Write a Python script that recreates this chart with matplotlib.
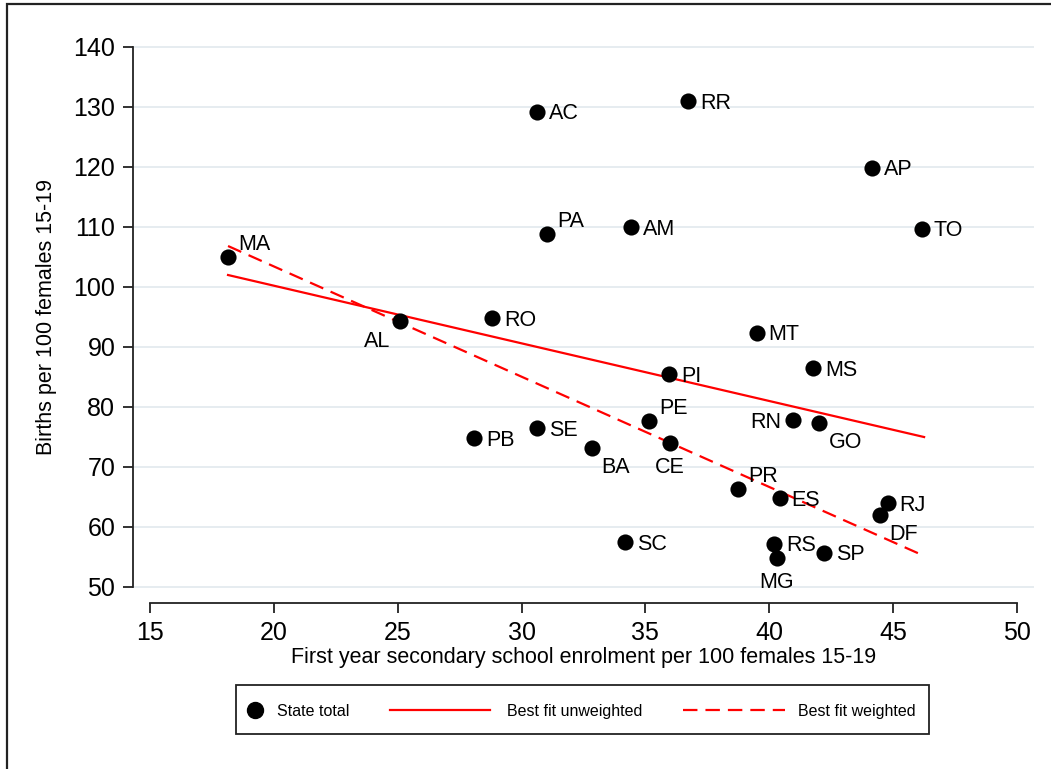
import matplotlib
matplotlib.use("Agg")
import matplotlib.pyplot as plt
from matplotlib.lines import Line2D
from matplotlib.patches import Rectangle
import numpy as np

plt.rcParams['font.family'] = ['Liberation Sans', 'DejaVu Sans']

# State totals: secondary enrolment (x) vs births (y) per 100 females 15-19
states = ["MA", "AL", "RO", "PB", "AC", "SE", "PA", "BA", "SC", "AM", "PE", "PI",
          "CE", "RR", "PR", "MT", "RS", "MG", "ES", "RN", "MS", "GO", "SP", "AP",
          "DF", "RJ", "TO"]
enrolment = [18.15, 25.09, 28.81, 28.08, 30.62, 30.62, 31.03, 32.84, 34.18, 34.42,
             35.15, 35.95, 35.99, 36.72, 38.74, 39.50, 40.19, 40.31, 40.43, 40.96,
             41.77, 42.01, 42.21, 44.15, 44.47, 44.79, 46.17]
births = [105.0, 94.3, 94.8, 74.8, 129.2, 76.5, 108.8, 73.2, 57.5, 110.0,
          77.6, 85.5, 74.0, 131.0, 66.3, 92.4, 57.2, 54.8, 64.8, 77.8,
          86.5, 77.3, 55.7, 119.9, 62.0, 64.0, 109.7]
# label placement (clock position, Stata style); default is 3 o'clock
label_pos = {"MA": 1, "AL": 7, "BA": 5, "CE": 6, "PE": 1, "PA": 1, "PR": 1,
             "DF": 5, "GO": 5, "MG": 6, "RN": 9}

# Fitted lines (intercept, slope) over the enrolment range
fit_x_range = [18.15, 46.25]
fit_unweighted = (119.44, -0.961)
fit_weighted = (140.19, -1.838)

y_ticks = [50, 60, 70, 80, 90, 100, 110, 120, 130, 140]
x_ticks = [15, 20, 25, 30, 35, 40, 45, 50]

legend_labels = ["State total", "Best fit unweighted", "Best fit weighted"]

RED = "#ff0000"
INK = "#222222"
W, H = 1051, 769
fig = plt.figure(figsize=(W / 100, H / 100), dpi=100)


def fx(px):
    return px / W


def fy(py):
    return 1 - py / H


# outer frame
fig.add_artist(Rectangle((fx(6.5), -0.1), 1.2, 1.1 - 4.5 / H, transform=fig.transFigure,
                         fill=False, edgecolor=INK, linewidth=1.6))

# plot region geometry in pixels: x 15->150, 50->1017 ; y 140->47, 50->587
px_per_x = (1017 - 150) / 35.0
y_top_px, y_bot_px = 47, 587
px_per_y = (y_bot_px - y_top_px) / 90.0
ax_left_px, ax_right_px = 133, 1034
top_px, bot_px = 30, 603
xlim = (15 - (150 - ax_left_px) / px_per_x, 50 + (ax_right_px - 1017) / px_per_x)
ylim = (50 - (bot_px - y_bot_px) / px_per_y, 140 + (y_top_px - top_px) / px_per_y)

ax = fig.add_axes([fx(ax_left_px), fy(bot_px), (ax_right_px - ax_left_px) / W,
                   (bot_px - top_px) / H])
ax.set_xlim(*xlim)
ax.set_ylim(*ylim)

for s in ["top", "right"]:
    ax.spines[s].set_visible(False)
ax.spines["left"].set_bounds(50, 140)
ax.spines["bottom"].set_bounds(15, 50)
for s in ["left", "bottom"]:
    ax.spines[s].set_linewidth(1.3)
    ax.spines[s].set_color(INK)

ax.set_yticks(y_ticks)
ax.set_xticks(x_ticks)
ax.tick_params(axis="both", labelsize=18, length=7.2, width=1.3, color=INK, pad=5.5)
for yv in y_ticks:
    ax.axhline(yv, color="#e6ecf0", linewidth=1.4, zorder=0)

# fit lines
xs = np.array(fit_x_range)
ax.plot(xs, fit_unweighted[0] + fit_unweighted[1] * xs, color=RED, lw=1.6, zorder=2)
ax.plot(xs, fit_weighted[0] + fit_weighted[1] * xs, color=RED, lw=1.6,
        dashes=(6.5, 3.6), zorder=2)

ax.scatter(enrolment, births, s=135, color="black", zorder=3, linewidths=0)

offsets = {3: (8.5, -1.5, "left", "center"), 1: (7, 1.5, "left", "bottom"),
           7: (-7, -7, "right", "top"), 5: (7, -6.5, "left", "top"),
           6: (0, -10, "center", "top"), 9: (-8.5, -1.5, "right", "center")}
for st, xv, yv in zip(states, enrolment, births):
    dx, dy, ha, va = offsets[label_pos.get(st, 3)]
    ax.annotate(st, (xv, yv), xytext=(dx, dy), textcoords="offset points",
                ha=ha, va=va, fontsize=15.5, zorder=4)

# axis titles centred on the axis ranges
ax_w = ax_right_px - ax_left_px
ax_h = bot_px - top_px
ax.set_ylabel("Births per 100 females 15-19", fontsize=15.5)
ax.yaxis.set_label_coords((57 - ax_left_px) / ax_w, (bot_px - (y_top_px + y_bot_px) / 2) / ax_h)
ax.set_xlabel("First year secondary school enrolment per 100 females 15-19", fontsize=15.5)
ax.xaxis.set_label_coords(((150 + 1017) / 2 - ax_left_px) / ax_w, -(647 - bot_px) / ax_h)

# legend box drawn in figure pixels
fig.add_artist(Rectangle((fx(236), fy(734)), (929 - 236) / W, (734 - 685) / H,
                         transform=fig.transFigure, fill=False, edgecolor=INK,
                         linewidth=1.3))
ly = fy(710)
fig.add_artist(Line2D([fx(255)], [ly], marker="o", ls="none", color="black",
                      markersize=11.5, transform=fig.transFigure))
fig.add_artist(Line2D([fx(390), fx(490)], [ly, ly], color=RED, lw=1.6,
                      transform=fig.transFigure))
fig.add_artist(Line2D([fx(683), fx(785)], [ly, ly], color=RED, lw=1.6,
                      dashes=(6.5, 3.6), transform=fig.transFigure))
for txt, xpx in zip(legend_labels, [277, 507, 798]):
    fig.text(fx(xpx), ly, txt, ha="left", va="center_baseline", fontsize=11.5)

fig.savefig("out.png", dpi=100)
